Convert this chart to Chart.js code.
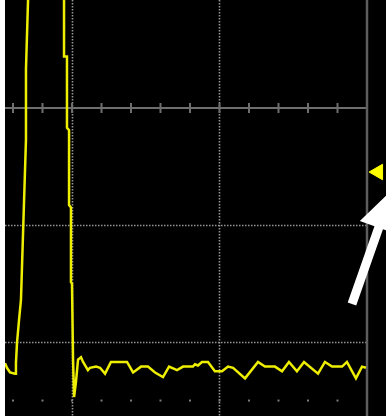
<!DOCTYPE html>
<html>
<head>
<meta charset="utf-8">
<script src="https://cdn.jsdelivr.net/npm/chart.js@4.4.1/dist/chart.umd.min.js"></script>
<style>
  html, body { margin: 0; padding: 0; background: #ffffff; }
  #wrap { width: 386px; height: 416px; position: relative; }
</style>
</head>
<body>
<div id="wrap"><canvas id="scope"></canvas></div>
<script>
// time in ns (10 ns/div), voltage in V (1 V/div)
var times = [
  -4.54, -4.41, -4.20, -3.86, -3.80, -3.73, -3.59, -3.46, -3.12, -3.12, -2.98,
  -2.51, -1.49,
  -0.61, -0.54, -0.54, -0.34, -0.34, -0.20, -0.20, -0.07, -0.07, 0.00, 0.07,
  0.14, 0.27, 0.41, 0.61, 0.75, 1.08, 1.22, 1.63, 1.90, 2.24, 2.64, 3.73,
  4.14, 4.68, 5.15, 5.63, 6.17, 6.58, 7.12, 7.53, 8.20, 8.34, 8.54, 8.81,
  9.22, 9.69, 10.17, 10.58, 10.92, 11.73, 12.61, 13.08, 13.76, 14.24, 14.71,
  15.25, 15.73, 16.68, 17.15, 17.63, 18.31, 18.64, 19.25, 19.66, 19.93
];
var volts = [
  -2.18, -2.22, -2.26, -2.27, -2.18, -2.01, -1.81, -1.64, -0.27, 0.33, 0.92,
  5.20, 5.37,
  1.09, 0.92, 0.44, 0.44, -0.17, -0.19, -0.83, -0.85, -1.49, -1.50, -2.14,
  -2.47, -2.34, -2.15, -2.13, -2.17, -2.24, -2.22, -2.21, -2.22, -2.27, -2.17, -2.17,
  -2.26, -2.21, -2.21, -2.26, -2.30, -2.21, -2.24, -2.21, -2.21, -2.19, -2.20, -2.17,
  -2.17, -2.25, -2.25, -2.21, -2.22, -2.31, -2.17, -2.21, -2.21, -2.25, -2.17,
  -2.25, -2.17, -2.27, -2.17, -2.21, -2.21, -2.17, -2.31, -2.21, -2.22
];

// graticule
var majorX = [0, 10];          // dotted verticals
var borderX = [20];            // right edge of the screen
var centerY = [0];             // solid line with minor ticks
var dottedY = [-1, -2];
var dotRowY = [-2.5];          // row of tick dots near the bottom
var minorStep = 2;

// trigger level marker and the pointer arrow
var trigTime = [20.75];
var trigLevel = [-0.547];
var arrowFrom = [18.98, -1.675];
var arrowTo = [21.69, -0.70];

var tData = [];
for (var i = 0; i < times.length; i++) {
  tData.push({ x: times[i], y: volts[i] });
}
var trigData = [{ x: trigTime[0], y: trigLevel[0] }];

var scopePlugin = {
  id: 'scope',
  beforeDraw: function(chart) {
    var ctx = chart.ctx, a = chart.chartArea;
    var xs = chart.scales.x, ys = chart.scales.y;
    ctx.save();
    ctx.fillStyle = '#000000';
    ctx.fillRect(a.left, a.top, a.right - a.left, a.bottom - a.top);

    // dotted lines
    ctx.strokeStyle = '#959595';
    ctx.lineWidth = 1.6;
    ctx.setLineDash([1.5, 1.5]);
    majorX.forEach(function(v) {
      var px = Math.round(xs.getPixelForValue(v)) + 0.5;
      ctx.beginPath(); ctx.moveTo(px, a.top); ctx.lineTo(px, a.bottom); ctx.stroke();
    });
    dottedY.forEach(function(v) {
      var py = Math.round(ys.getPixelForValue(v)) + 0.5;
      ctx.beginPath(); ctx.moveTo(a.left, py); ctx.lineTo(xs.getPixelForValue(borderX[0]), py); ctx.stroke();
    });
    ctx.setLineDash([]);

    // tick dots row
    ctx.fillStyle = '#7a7a7a';
    dotRowY.forEach(function(v) {
      var py = ys.getPixelForValue(v);
      for (var t = -4; t <= borderX[0]; t += minorStep) {
        var px = xs.getPixelForValue(t);
        ctx.fillRect(px - 1, py - 1, 2, 2);
      }
    });

    // center line with minor ticks
    ctx.strokeStyle = '#6e6e6e';
    ctx.lineWidth = 2;
    centerY.forEach(function(v) {
      var py = ys.getPixelForValue(v);
      var right = xs.getPixelForValue(borderX[0]);
      ctx.beginPath(); ctx.moveTo(a.left, py); ctx.lineTo(right, py); ctx.stroke();
      for (var t = -4; t <= borderX[0]; t += minorStep) {
        var px = xs.getPixelForValue(t);
        ctx.beginPath(); ctx.moveTo(px, py - 5); ctx.lineTo(px, py + 5); ctx.stroke();
      }
    });

    // right border
    ctx.strokeStyle = '#5e5e5e';
    ctx.lineWidth = 2.5;
    borderX.forEach(function(v) {
      var px = xs.getPixelForValue(v);
      ctx.beginPath(); ctx.moveTo(px, a.top); ctx.lineTo(px, a.bottom); ctx.stroke();
    });
    ctx.restore();
  },
  afterDraw: function(chart) {
    var ctx = chart.ctx;
    var xs = chart.scales.x, ys = chart.scales.y;
    var x0 = xs.getPixelForValue(arrowFrom[0]), y0 = ys.getPixelForValue(arrowFrom[1]);
    var x1 = xs.getPixelForValue(arrowTo[0]), y1 = ys.getPixelForValue(arrowTo[1]);
    var dx = x1 - x0, dy = y1 - y0, len = Math.sqrt(dx * dx + dy * dy);
    var ux = dx / len, uy = dy / len, nx = -uy, ny = ux;
    var headLen = 40, headW = 20, shaftW = 4.5;
    var bx = x1 - ux * headLen, by = y1 - uy * headLen;
    ctx.save();
    ctx.fillStyle = '#ffffff';
    ctx.beginPath();
    ctx.moveTo(x0 + nx * shaftW, y0 + ny * shaftW);
    ctx.lineTo(bx + nx * shaftW, by + ny * shaftW);
    ctx.lineTo(bx + nx * headW, by + ny * headW);
    ctx.lineTo(x1, y1);
    ctx.lineTo(bx - nx * headW, by - ny * headW);
    ctx.lineTo(bx - nx * shaftW, by - ny * shaftW);
    ctx.lineTo(x0 - nx * shaftW, y0 - ny * shaftW);
    ctx.closePath();
    ctx.fill();
    ctx.restore();
  }
};

var ctx = document.getElementById('scope').getContext('2d');
var chart = new Chart(ctx, {
  type: 'line',
  data: {
    datasets: [{
      data: tData,
      borderColor: '#eeee00',
      borderWidth: 2.5,
      pointRadius: 0,
      tension: 0,
      fill: false
    }, {
      type: 'scatter',
      data: trigData,
      pointStyle: 'triangle',
      rotation: 270,
      pointRadius: 9,
      backgroundColor: '#ffff00',
      borderColor: '#ffff00',
      borderWidth: 1,
      clip: false
    }]
  },
  options: {
    responsive: true,
    maintainAspectRatio: false,
    animation: false,
    layout: { autoPadding: false, padding: { left: 5, right: 0, top: 0, bottom: 0 } },
    plugins: {
      legend: { display: false },
      tooltip: { enabled: false }
    },
    scales: {
      x: { type: 'linear', display: false, min: -4.542, max: 21.288 },
      y: { type: 'linear', display: false, min: -2.632, max: 0.923 }
    }
  },
  plugins: [scopePlugin]
});
</script>
</body>
</html>
